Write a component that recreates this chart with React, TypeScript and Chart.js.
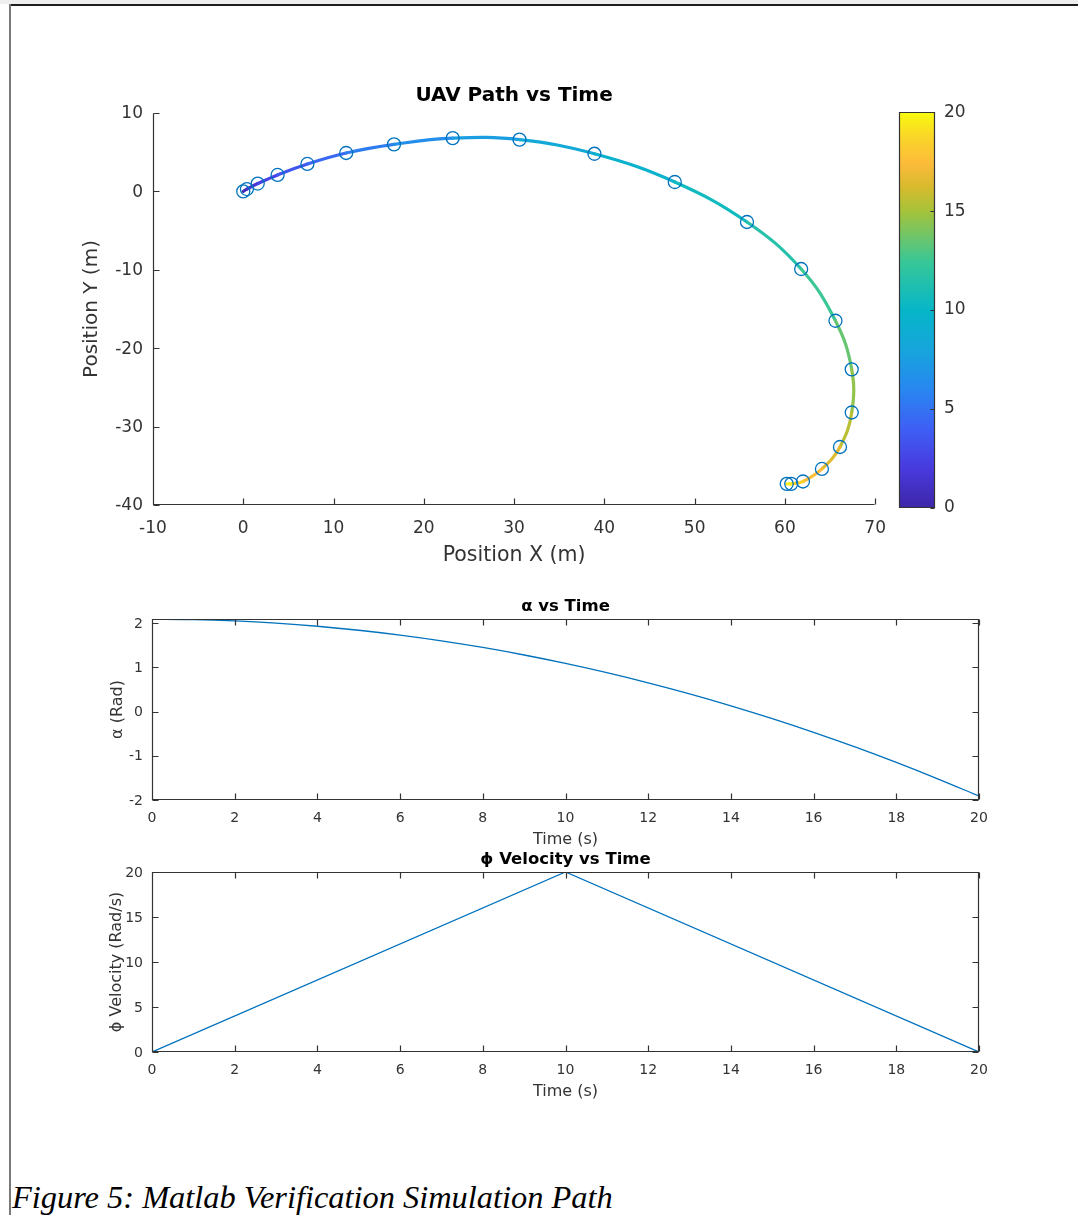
import React, { useEffect, useRef } from "react";
import { Chart, registerables } from "chart.js";

Chart.register(...registerables);

// ---------------- data ----------------
const pathTime = [0, 1, 2, 3, 4, 5, 6, 7, 8, 9, 10, 11, 12, 13, 14, 15, 16, 17, 18, 19, 20];
const pathX = [0, 0.4, 1.6, 3.8, 7.1, 11.4, 16.7, 23.2, 30.6, 38.9, 47.8, 55.8, 61.8, 65.6, 67.4, 67.4, 66.1, 64.1, 62.0, 60.7, 60.2];
const pathY = [0, 0.3, 1.0, 2.1, 3.5, 4.9, 6.0, 6.8, 6.6, 4.8, 1.2, -3.9, -9.9, -16.5, -22.7, -28.2, -32.6, -35.4, -37.0, -37.3, -37.3];
const pathXTicks = [-10, 0, 10, 20, 30, 40, 50, 60, 70];
const pathYTicks = [-40, -30, -20, -10, 0, 10];
const colorbarTicks = [0, 5, 10, 15, 20];

const alphaTime = [0, 1, 2, 3, 4, 5, 6, 7, 8, 9, 10, 11, 12, 13, 14, 15, 16, 17, 18, 19, 20];
const alphaValues = [2.09, 2.08, 2.05, 2.0, 1.93, 1.84, 1.73, 1.6, 1.45, 1.28, 1.09, 0.88, 0.65, 0.4, 0.13, -0.16, -0.47, -0.8, -1.15, -1.52, -1.91];
const alphaTicks = [-2, -1, 0, 1, 2];
const alphaYMin = -2;
const alphaYMax = 2.094;

const phiTime = [0, 10, 20];
const phiValues = [0, 20, 0];
const phiTicks = [0, 5, 10, 15, 20];

const timeTicks = [0, 2, 4, 6, 8, 10, 12, 14, 16, 18, 20];

// ---------------- styles ----------------
const FONT = "'DejaVu Sans', 'Liberation Sans', sans-serif";
const AXIS_COLOR = "#333333";
const TEXT_COLOR = "#333333";
const LINE_BLUE = "#0072BD";

const PARULA: [number, number, number, number][] = [
  [0.0, 62, 38, 168],
  [0.1, 72, 58, 222],
  [0.2, 62, 95, 245],
  [0.3, 40, 135, 240],
  [0.4, 22, 165, 220],
  [0.5, 6, 182, 200],
  [0.62, 55, 199, 152],
  [0.75, 165, 195, 58],
  [0.81, 215, 186, 45],
  [0.87, 252, 187, 59],
  [0.94, 250, 215, 40],
  [1.0, 249, 251, 14],
];

function parula(f: number): string {
  const v = Math.max(0, Math.min(1, f));
  for (let i = 1; i < PARULA.length; i++) {
    const a = PARULA[i - 1];
    const b = PARULA[i];
    if (v <= b[0]) {
      const k = (v - a[0]) / (b[0] - a[0]);
      const r = Math.round(a[1] + (b[1] - a[1]) * k);
      const g = Math.round(a[2] + (b[2] - a[2]) * k);
      const bl = Math.round(a[3] + (b[3] - a[3]) * k);
      return `rgb(${r},${g},${bl})`;
    }
  }
  return "rgb(249,251,14)";
}

// inward MATLAB-like ticks and axis lines
const matlabAxes = {
  id: "matlabAxes",
  afterDatasetsDraw(chart: any, _args: any, opts: any) {
    const { ctx, chartArea: a } = chart;
    const len = opts.tickLen ?? 6;
    const L = Math.round(a.left) + 0.5;
    const R = Math.round(a.right) - 0.5;
    const T = Math.round(a.top) + 0.5;
    const B = Math.round(a.bottom) - 0.5;
    ctx.save();
    ctx.strokeStyle = opts.color || AXIS_COLOR;
    ctx.lineWidth = opts.lineWidth || 1.2;
    ctx.beginPath();
    if (opts.box) {
      ctx.moveTo(L, T);
      ctx.lineTo(R, T);
      ctx.lineTo(R, B);
      ctx.lineTo(L, B);
      ctx.closePath();
    } else {
      ctx.moveTo(L, T);
      ctx.lineTo(L, B);
      ctx.lineTo(R, B);
    }
    const xs = chart.scales.x;
    const ys = chart.scales.y;
    if (xs && xs.options.display !== false && xs.isHorizontal()) {
      for (const t of xs.ticks) {
        const p = Math.round(xs.getPixelForValue(t.value)) + 0.5;
        ctx.moveTo(p, B);
        ctx.lineTo(p, B - len);
        if (opts.box && !opts.rightOnly) {
          ctx.moveTo(p, T);
          ctx.lineTo(p, T + len);
        }
      }
    }
    if (ys) {
      for (const t of ys.ticks) {
        const p = Math.round(ys.getPixelForValue(t.value)) + 0.5;
        if (opts.rightOnly) {
          ctx.moveTo(R, p);
          ctx.lineTo(R - len, p);
        } else {
          ctx.moveTo(L, p);
          ctx.lineTo(L + len, p);
          if (opts.box) {
            ctx.moveTo(R, p);
            ctx.lineTo(R - len, p);
          }
        }
      }
    }
    ctx.stroke();
    ctx.restore();
  },
};

function fixedTicks(arr: number[]) {
  return (s: any) => {
    s.ticks = arr.map((v) => ({ value: v }));
  };
}

function pathConfig(): any {
  const pts = pathX.map((x, i) => ({ x, y: pathY[i] }));
  const tMax = pathTime[pathTime.length - 1];
  return {
    type: "scatter",
    data: {
      datasets: [
        {
          data: pts,
          showLine: false,
          pointRadius: 6.5,
          pointBorderWidth: 1.3,
          pointBorderColor: LINE_BLUE,
          pointBackgroundColor: "rgba(0,0,0,0)",
        },
        {
          data: pts,
          showLine: true,
          borderWidth: 3.2,
          tension: 0.4,
          pointRadius: 0,
          borderCapStyle: "round",
          borderColor: parula(0.5),
          segment: {
            borderColor: (c: any) =>
              parula((pathTime[c.p0DataIndex] + pathTime[c.p1DataIndex]) / 2 / tMax),
          },
        },
      ],
    },
    options: {
      animation: false,
      responsive: false,
      devicePixelRatio: 1,
      layout: { padding: { left: 0, right: 15, top: 0, bottom: 0 } },
      plugins: {
        legend: { display: false },
        tooltip: { enabled: false },
        title: {
          display: true,
          fullSize: false,
          text: "UAV Path vs Time",
          color: "#000",
          font: { family: FONT, size: 20, weight: "bold" },
          padding: { top: 14, bottom: 5 },
        },
        matlabAxes: { box: false, tickLen: 6 },
      },
      scales: {
        x: {
          type: "linear",
          min: -10,
          max: 70,
          grid: { display: false, drawTicks: false },
          border: { display: false },
          afterBuildTicks: fixedTicks(pathXTicks),
          afterFit: (s: any) => {
            s.height = 75;
          },
          ticks: { font: { family: FONT, size: 17 }, color: TEXT_COLOR, padding: 13, maxRotation: 0, autoSkip: false },
          title: {
            display: true,
            text: "Position X (m)",
            color: TEXT_COLOR,
            font: { family: FONT, size: 20.5 },
            padding: { top: 0, bottom: 11.7 },
          },
        },
        y: {
          type: "linear",
          min: -40,
          max: 10,
          grid: { display: false, drawTicks: false },
          border: { display: false },
          afterBuildTicks: fixedTicks(pathYTicks),
          afterFit: (s: any) => {
            s.width = 93;
          },
          ticks: { font: { family: FONT, size: 17 }, color: TEXT_COLOR, padding: 10, autoSkip: false, labelOffset: 1 },
          title: {
            display: true,
            text: "Position Y (m)",
            color: TEXT_COLOR,
            font: { family: FONT, size: 20 },
            padding: { top: 20, bottom: 0 },
          },
        },
      },
    },
    plugins: [matlabAxes],
  };
}

function colorbarConfig(): any {
  const lo = colorbarTicks[0];
  const hi = colorbarTicks[colorbarTicks.length - 1];
  return {
    type: "bar",
    data: {
      labels: [""],
      datasets: [
        {
          data: [[lo, hi]],
          borderWidth: 0,
          barPercentage: 1,
          categoryPercentage: 1,
          backgroundColor: (c: any) => {
            const a = c.chart.chartArea;
            if (!a) return parula(0.5);
            const g = c.chart.ctx.createLinearGradient(0, a.bottom, 0, a.top);
            PARULA.forEach((s) => g.addColorStop(s[0], `rgb(${s[1]},${s[2]},${s[3]})`));
            return g;
          },
        },
      ],
    },
    options: {
      animation: false,
      responsive: false,
      devicePixelRatio: 1,
      layout: { padding: { left: 19, right: 0, top: 6, bottom: 7 } },
      plugins: {
        legend: { display: false },
        tooltip: { enabled: false },
        matlabAxes: { box: true, rightOnly: true, tickLen: 4 },
      },
      scales: {
        x: { display: false },
        y: {
          position: "right",
          min: lo,
          max: hi,
          grid: { display: false, drawTicks: false },
          border: { display: false },
          afterBuildTicks: fixedTicks(colorbarTicks),
          afterFit: (s: any) => {
            s.width = 45;
          },
          ticks: { font: { family: FONT, size: 17 }, color: TEXT_COLOR, padding: 9 },
        },
      },
    },
    plugins: [matlabAxes],
  };
}

function timeConfig(opt: {
  xs: number[];
  ys: number[];
  yMin: number;
  yMax: number;
  yTicks: number[];
  title: string;
  yTitle: string;
  titlePad: { top: number; bottom: number };
  xScaleHeight: number;
  xTitleBottom: number;
  yTitleTop: number;
  smooth: boolean;
}): any {
  return {
    type: "scatter",
    data: {
      datasets: [
        {
          data: opt.xs.map((x, i) => ({ x, y: opt.ys[i] })),
          showLine: true,
          borderColor: LINE_BLUE,
          borderWidth: 1.3,
          pointRadius: 0,
          tension: opt.smooth ? 0.4 : 0,
          cubicInterpolationMode: opt.smooth ? "monotone" : "default",
        },
      ],
    },
    options: {
      animation: false,
      responsive: false,
      devicePixelRatio: 1,
      layout: { padding: { left: 0, right: 21, top: 0, bottom: 0 } },
      plugins: {
        legend: { display: false },
        tooltip: { enabled: false },
        title: {
          display: true,
          fullSize: false,
          text: opt.title,
          color: "#000",
          font: { family: FONT, size: 16.5, weight: "bold" },
          padding: opt.titlePad,
        },
        matlabAxes: { box: true, tickLen: 6 },
      },
      scales: {
        x: {
          type: "linear",
          min: timeTicks[0],
          max: timeTicks[timeTicks.length - 1],
          grid: { display: false, drawTicks: false },
          border: { display: false },
          afterBuildTicks: fixedTicks(timeTicks),
          afterFit: (s: any) => {
            s.height = opt.xScaleHeight;
          },
          ticks: { font: { family: FONT, size: 14 }, color: TEXT_COLOR, padding: 10, maxRotation: 0, autoSkip: false },
          title: {
            display: true,
            text: "Time (s)",
            color: TEXT_COLOR,
            font: { family: FONT, size: 16 },
            padding: { top: 0, bottom: opt.xTitleBottom },
          },
        },
        y: {
          type: "linear",
          min: opt.yMin,
          max: opt.yMax,
          grid: { display: false, drawTicks: false },
          border: { display: false },
          afterBuildTicks: fixedTicks(opt.yTicks),
          afterFit: (s: any) => {
            s.width = 92;
          },
          ticks: { font: { family: FONT, size: 14 }, color: TEXT_COLOR, padding: 9, autoSkip: false, labelOffset: 1 },
          title: {
            display: true,
            text: opt.yTitle,
            color: TEXT_COLOR,
            font: { family: FONT, size: 16 },
            padding: { top: opt.yTitleTop, bottom: 0 },
          },
        },
      },
    },
    plugins: [matlabAxes],
  };
}

export default function App() {
  const pathRef = useRef<HTMLCanvasElement>(null);
  const cbRef = useRef<HTMLCanvasElement>(null);
  const alphaRef = useRef<HTMLCanvasElement>(null);
  const phiRef = useRef<HTMLCanvasElement>(null);

  useEffect(() => {
    const charts: Chart[] = [];
    charts.push(new Chart(pathRef.current!, pathConfig()));
    charts.push(new Chart(cbRef.current!, colorbarConfig()));
    charts.push(
      new Chart(
        alphaRef.current!,
        timeConfig({
          xs: alphaTime,
          ys: alphaValues,
          yMin: alphaYMin,
          yMax: alphaYMax,
          yTicks: alphaTicks,
          title: "α vs Time",
          yTitle: "α (Rad)",
          titlePad: { top: 7.1, bottom: 2.1 },
          xScaleHeight: 50,
          xTitleBottom: 0.4,
          yTitleTop: 48.4,
          smooth: true,
        })
      )
    );
    charts.push(
      new Chart(
        phiRef.current!,
        timeConfig({
          xs: phiTime,
          ys: phiValues,
          yMin: phiTicks[0],
          yMax: phiTicks[phiTicks.length - 1],
          yTicks: phiTicks,
          title: "ϕ Velocity vs Time",
          yTitle: "ϕ Velocity (Rad/s)",
          titlePad: { top: 10.1, bottom: 2.1 },
          xScaleHeight: 58,
          xTitleBottom: 8.4,
          yTitleTop: 47.4,
          smooth: false,
        })
      )
    );
    return () => charts.forEach((c) => c.destroy());
  }, []);

  return (
    <div
      style={{
        position: "absolute",
        left: 0,
        top: 0,
        width: 1078,
        height: 1215,
        overflow: "hidden",
        background: "#ffffff",
      }}
    >
      <div style={{ position: "absolute", left: 0, top: 0, width: 1078, height: 4, background: "#eeeeee" }} />
      <div style={{ position: "absolute", left: 9, top: 4, width: 1069, height: 2, background: "#1e1e1e" }} />
      <div style={{ position: "absolute", left: 9, top: 4, width: 2, height: 1211, background: "#7a7a7a" }} />
      <canvas ref={pathRef} width={839} height={510} style={{ position: "absolute", left: 60, top: 70 }} />
      <canvas ref={cbRef} width={100} height={434} style={{ position: "absolute", left: 880, top: 93 }} />
      <canvas ref={alphaRef} width={940} height={260} style={{ position: "absolute", left: 60, top: 590 }} />
      <canvas ref={phiRef} width={940} height={270} style={{ position: "absolute", left: 60, top: 840 }} />
      <div
        style={{
          position: "absolute",
          left: 12,
          top: 1181,
          fontFamily: "'Liberation Serif', 'Times New Roman', serif",
          fontStyle: "italic",
          fontSize: 32.4,
          lineHeight: "32px",
          color: "#000",
          whiteSpace: "nowrap",
        }}
      >
        Figure 5: Matlab Verification Simulation Path
      </div>
    </div>
  );
}
